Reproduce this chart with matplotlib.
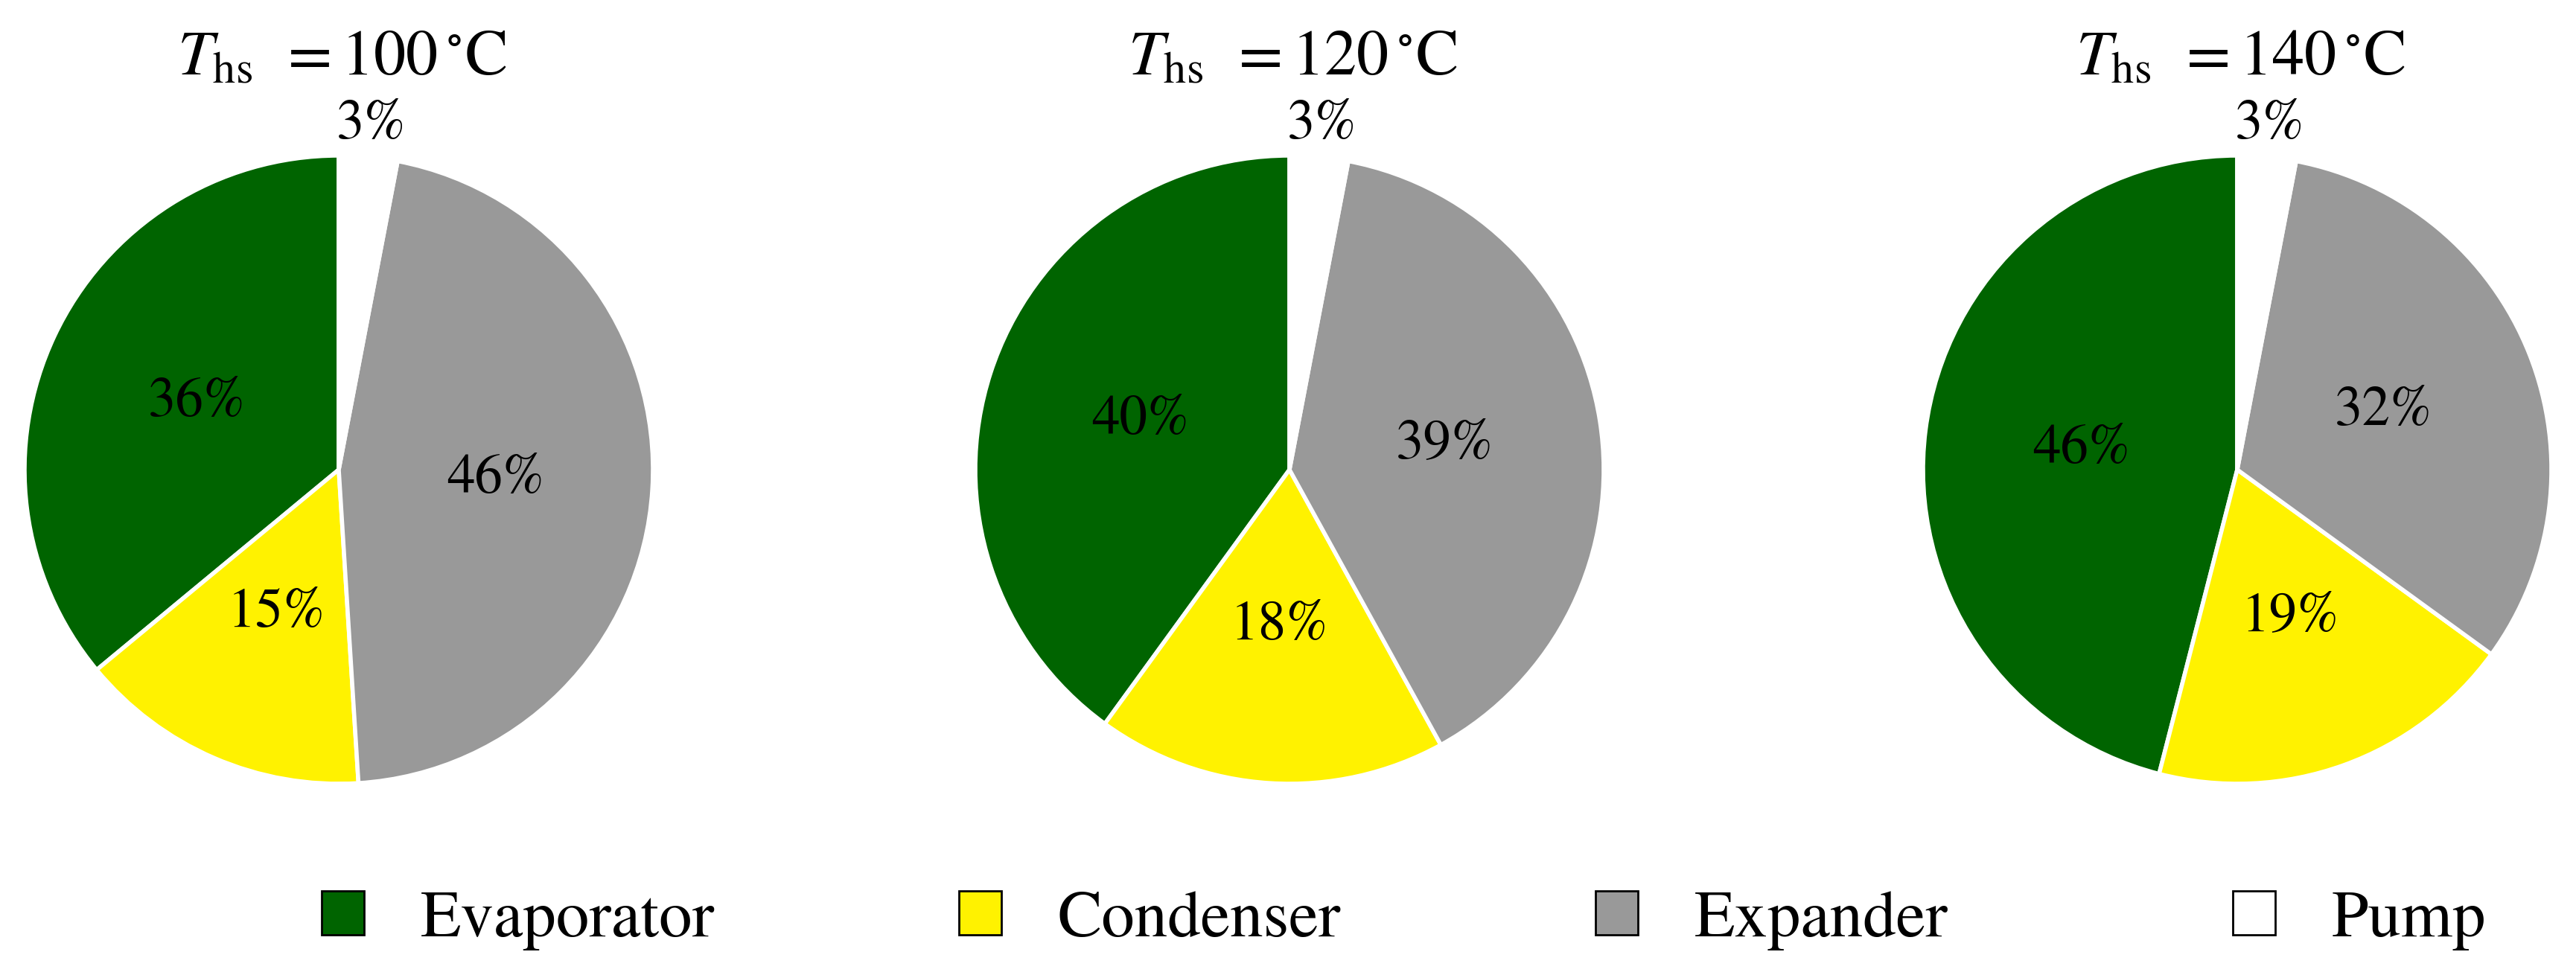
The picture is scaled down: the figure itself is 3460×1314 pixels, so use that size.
import matplotlib
matplotlib.use('Agg')
import matplotlib.pyplot as plt
from matplotlib.patches import Patch
import numpy as np

plt.rcParams['font.family'] = ['STIXGeneral', 'DejaVu Serif']
plt.rcParams['mathtext.fontset'] = 'stix'

# data
components = ['Evaporator', 'Condenser', 'Expander', 'Pump']
temps = [100, 120, 140]
share_100 = [36, 15, 46, 3]
share_120 = [40, 18, 39, 3]
share_140 = [46, 19, 32, 3]
colors = ['#006400', '#FFF200', '#999999', '#FFFFFF']

W, H = 3460, 1314
fig = plt.figure(figsize=(W / 100, H / 100), dpi=100)
fig.patch.set_facecolor('white')

R = 422
centers_x = [455, 1732, 3005]
cy = 631

for cx, T, vals in zip(centers_x, temps, [share_100, share_120, share_140]):
    ax = fig.add_axes([(cx - 1.3 * R) / W, (H - cy - 1.5 * R) / H, 2.6 * R / W, 3.0 * R / H])
    wedges, texts, autotexts = ax.pie(
        vals, colors=colors, startangle=90, counterclock=True,
        autopct=lambda p: f'{p:.0f}%', pctdistance=0.5,
        wedgeprops=dict(edgecolor='white', linewidth=4),
        textprops=dict(fontsize=54, color='black'))
    # pump label sits outside the pie
    w = wedges[3]
    ang = np.deg2rad((w.theta1 + w.theta2) / 2)
    autotexts[3].set_position((1.1 * np.cos(ang), 1.1 * np.sin(ang)))
    ax.set_xlim(-1.3, 1.3)
    ax.set_ylim(-1.5, 1.5)
    ax.set_aspect('equal')
    ax.axis('off')
    ax.text(0.01, 1.258, r'$T_{\mathrm{hs}}\ \,=' + str(T) + r'\,^{\circ}\mathrm{C}$',
            ha='center', va='baseline', fontsize=62)

# legend, evenly spaced entries
leg_x = [432, 1288, 2143, 2999]
leg_y = 1 - 1237 / H
for x, name, c in zip(leg_x, components, colors):
    fig.legend(handles=[Patch(facecolor=c, edgecolor='black', linewidth=2)], labels=[name],
               loc='center left', bbox_to_anchor=(x / W, leg_y), frameon=False,
               fontsize=64, handlelength=0.64, handleheight=0.64, handletextpad=0.85,
               borderpad=0, borderaxespad=0)

plt.savefig('out.png', dpi=100, facecolor='white')
